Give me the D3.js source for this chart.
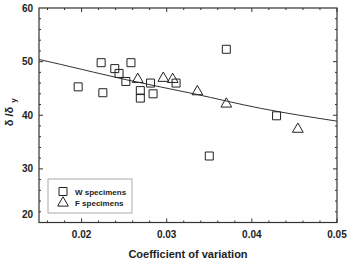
<!DOCTYPE html>
<html>
<head>
<meta charset="utf-8">
<script src="https://cdn.jsdelivr.net/npm/d3@7"></script>
<style>
	body { margin: 0; background: #fff; }
	text { font-family: "Liberation Sans", Arial, sans-serif; font-weight: bold; fill: #222; }
</style>
</head>
<body>
<svg width="348" height="259"></svg>
<script>
// W specimens (squares)
var wCov = [0.0196, 0.0225, 0.0223, 0.0239, 0.0244, 0.0258, 0.0252, 0.0269, 0.0269, 0.0281, 0.0284, 0.0311, 0.0370, 0.0429, 0.0350];
var wRatio = [45.3, 44.2, 49.8, 48.7, 47.8, 49.8, 46.3, 44.6, 43.2, 46.0, 44.0, 46.0, 52.3, 39.9, 32.4];

// F specimens (triangles)
var fCov = [0.0266, 0.0296, 0.0307, 0.0336, 0.0370, 0.0454];
var fRatio = [46.7, 46.9, 46.7, 44.4, 42.1, 37.4];

// fitted curve
var fitCov = [0.015, 0.0175, 0.0253, 0.0332, 0.041, 0.05];
var fitRatio = [50.4, 49.5, 46.6, 44.0, 41.3, 38.9];

var xTicks = [0.02, 0.03, 0.04, 0.05];
var yTicks = [20, 30, 40, 50, 60];

var svg = d3.select("svg");
var pLeft = 39, pRight = 337, pTop = 8, pBottom = 222.5;

var x = d3.scaleLinear().domain([0.015, 0.05]).range([pLeft, pRight]);
var y = d3.scaleLinear().domain([20, 60]).range([pBottom, pTop]);

// minor ticks, inward on all four sides
var xMinor = d3.range(0.016, 0.0501, 0.002);
var yMinor = d3.range(22, 60, 2);

var ticks = svg.append("g").attr("stroke", "#333").attr("stroke-width", 1);
xMinor.forEach(function(v) {
	var major = xTicks.some(function(t) { return Math.abs(t - v) < 1e-6; });
	var len = major ? 4 : 2;
	ticks.append("line").attr("x1", x(v)).attr("x2", x(v)).attr("y1", pBottom).attr("y2", pBottom - len);
	ticks.append("line").attr("x1", x(v)).attr("x2", x(v)).attr("y1", pTop).attr("y2", pTop + len);
});
yMinor.forEach(function(v) {
	var major = yTicks.indexOf(Math.round(v)) >= 0;
	var len = major ? 4 : 2;
	ticks.append("line").attr("y1", y(v)).attr("y2", y(v)).attr("x1", pLeft).attr("x2", pLeft + len);
	ticks.append("line").attr("y1", y(v)).attr("y2", y(v)).attr("x1", pRight).attr("x2", pRight - len);
});

// frame
svg.append("rect")
	.attr("x", pLeft).attr("y", pTop)
	.attr("width", pRight - pLeft).attr("height", pBottom - pTop)
	.attr("fill", "none").attr("stroke", "#333").attr("stroke-width", 1.2);

// tick labels
svg.append("g").selectAll("text")
	.data(xTicks)
	.enter().append("text")
		.attr("x", function(d) { return x(d); })
		.attr("y", pBottom + 15)
		.attr("text-anchor", "middle")
		.attr("font-size", 10)
		.text(function(d) { return d.toFixed(2); });

svg.append("g").selectAll("text")
	.data(yTicks)
	.enter().append("text")
		.attr("x", 33)
		.attr("y", function(d) { return y(d) + (d == 20 ? -5 : 3.5); })
		.attr("text-anchor", "end")
		.attr("font-size", 10)
		.text(function(d) { return d; });

// axis titles
svg.append("text")
	.attr("x", 188).attr("y", 258)
	.attr("text-anchor", "middle")
	.attr("font-size", 11)
	.text("Coefficient of variation");

var yt = svg.append("text")
	.attr("transform", "translate(13," + ((pTop + pBottom) / 2 - 3) + ") rotate(-90)")
	.attr("text-anchor", "middle")
	.attr("font-size", 11);
yt.append("tspan").text("δ /δ");
yt.append("tspan").attr("font-size", 8).attr("dy", 3).attr("dx", 4).text("y");

// fit line
svg.append("path")
	.datum(d3.zip(fitCov, fitRatio))
	.attr("fill", "none")
	.attr("stroke", "#333")
	.attr("stroke-width", 1)
	.attr("d", d3.line()
		.x(function(d) { return x(d[0]); })
		.y(function(d) { return y(d[1]); })
		.curve(d3.curveMonotoneX));

var square = d3.symbol().type(d3.symbolSquare).size(64);
var triangle = d3.symbol().type(d3.symbolTriangle).size(50);

svg.append("g").selectAll("path")
	.data(d3.zip(wCov, wRatio))
	.enter().append("path")
		.attr("d", square)
		.attr("transform", function(d) { return "translate(" + x(d[0]) + "," + y(d[1]) + ")"; })
		.attr("fill", "none").attr("stroke", "#222").attr("stroke-width", 1);

svg.append("g").selectAll("path")
	.data(d3.zip(fCov, fRatio))
	.enter().append("path")
		.attr("d", triangle)
		.attr("transform", function(d) { return "translate(" + x(d[0]) + "," + y(d[1]) + ")"; })
		.attr("fill", "none").attr("stroke", "#222").attr("stroke-width", 1);

// legend
var lg = svg.append("g");
lg.append("rect")
	.attr("x", 48).attr("y", 179).attr("width", 84).attr("height", 34)
	.attr("fill", "#fff").attr("stroke", "#aaa").attr("stroke-width", 1);
lg.append("path").attr("d", square).attr("transform", "translate(63,191.5)")
	.attr("fill", "none").attr("stroke", "#222");
lg.append("path").attr("d", triangle).attr("transform", "translate(63,203)")
	.attr("fill", "none").attr("stroke", "#222");
lg.append("text").attr("x", 75).attr("y", 194.5).attr("font-size", 8).text("W specimens");
lg.append("text").attr("x", 75).attr("y", 206).attr("font-size", 8).text("F specimens");
</script>
</body>
</html>
